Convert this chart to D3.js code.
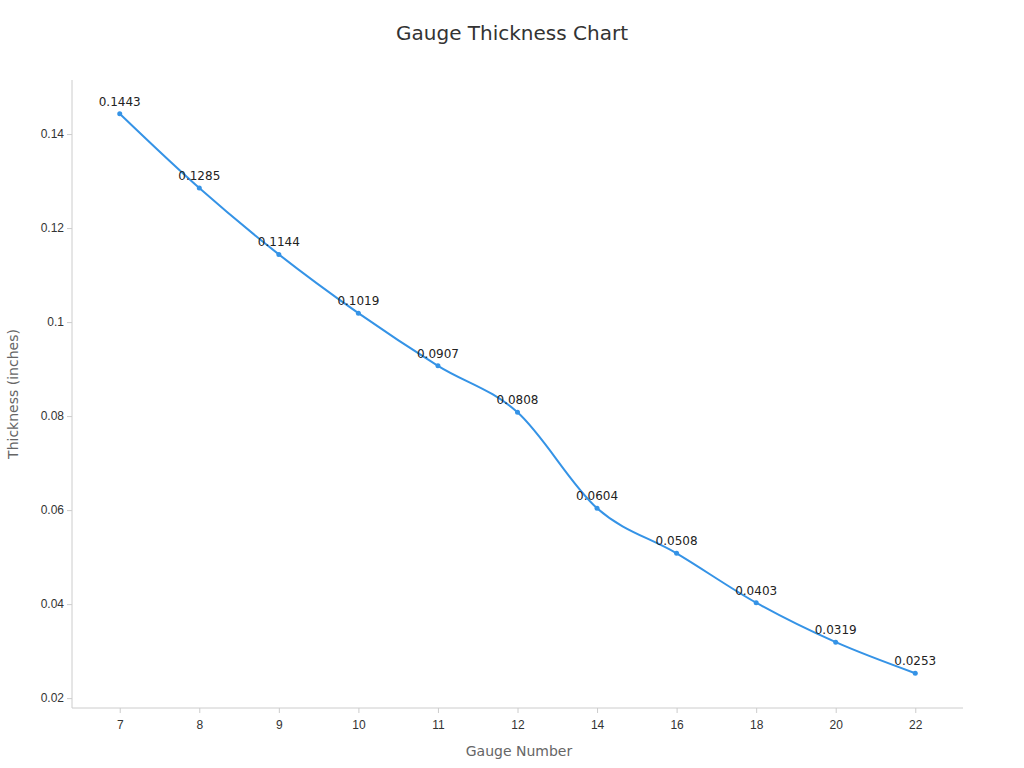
<!DOCTYPE html>
<html><head><meta charset="utf-8">
<script src="https://cdn.jsdelivr.net/npm/d3@7"></script>
<style>body{margin:0;background:#fff;font-family:"DejaVu Sans",sans-serif}</style>
</head><body><svg id="c" width="1024" height="768"></svg>
<script>
const gauges = ["7","8","9","10","11","12","14","16","18","20","22"];
const thickness = [0.1443,0.1285,0.1144,0.1019,0.0907,0.0808,0.0604,0.0508,0.0403,0.0319,0.0253];
const yTicks = [0.02,0.04,0.06,0.08,0.1,0.12,0.14];

const svg = d3.select("#c");
const L=72,R=963,T=80,B=708;
const x = d3.scalePoint().domain(gauges).range([L,R]).padding(0.6);
const y = d3.scaleLinear().domain([0.0179,0.1515]).range([B,T]);
const txt="#333", axisC="#ccc";

svg.append("text").attr("x",512).attr("y",40).attr("text-anchor","middle")
  .attr("font-size",20).attr("fill","#333").text("Gauge Thickness Chart");

const xa = svg.append("g").attr("transform",`translate(0,${B})`)
  .call(d3.axisBottom(x).tickSize(5).tickSizeOuter(0));
xa.select(".domain").attr("stroke",axisC).attr("d",`M${L},0H${R}`);
xa.selectAll(".tick line").attr("stroke",axisC);
xa.selectAll("text").attr("fill",txt).attr("font-size",12).attr("dy","1.1em");

const ya = svg.append("g").attr("transform",`translate(${L},0)`)
  .call(d3.axisLeft(y).tickValues(yTicks).tickFormat(d=>String(+d.toFixed(2))).tickSize(5).tickSizeOuter(0));
ya.select(".domain").attr("stroke",axisC).attr("d",`M0,${T}V${B}`);
ya.selectAll(".tick line").attr("stroke",axisC);
ya.selectAll("text").attr("fill",txt).attr("font-size",12);

svg.append("text").attr("x",519).attr("y",756).attr("text-anchor","middle")
  .attr("font-size",14).attr("fill","#666").text("Gauge Number");
svg.append("text").attr("transform","translate(18,394) rotate(-90)").attr("text-anchor","middle")
  .attr("font-size",14).attr("fill","#666").text("Thickness (inches)");

const data = gauges.map((g,i)=>({g,v:thickness[i]}));
svg.append("path").datum(data).attr("fill","none").attr("stroke","#3593e6").attr("stroke-width",2)
  .attr("d",d3.line().x(d=>x(d.g)).y(d=>y(d.v)).curve(d3.curveMonotoneX));
svg.selectAll("circle.p").data(data).join("circle").attr("cx",d=>x(d.g)).attr("cy",d=>y(d.v))
  .attr("r",2.5).attr("fill","#3593e6");
svg.selectAll("text.l").data(data).join("text").attr("x",d=>x(d.g)).attr("y",d=>y(d.v)-8)
  .attr("text-anchor","middle").attr("font-size",12).attr("fill","#222").text(d=>d.v);
</script></body></html>
